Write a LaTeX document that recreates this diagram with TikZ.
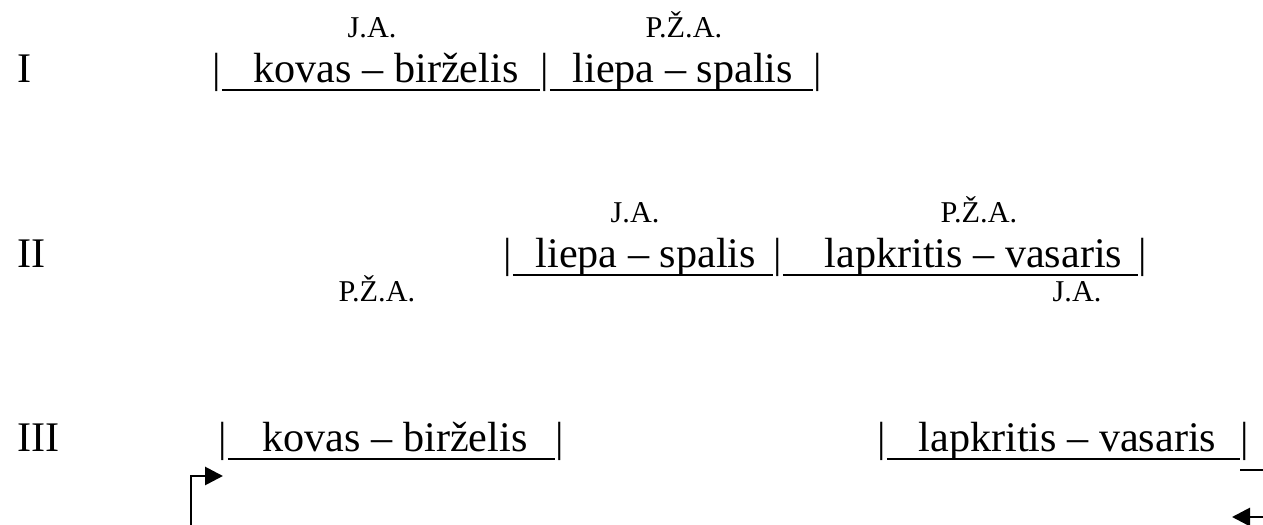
\documentclass[tikz,border=0pt]{standalone}
\usepackage{fontspec}
\setmainfont{Liberation Serif}
\usetikzlibrary{arrows.meta}

\tikzset{
  rowno/.style={font=\fontsize{12}{14}\selectfont, inner sep=0pt, anchor=base west},
  bar/.style={font=\fontsize{12}{14}\selectfont, inner sep=0pt, anchor=base},
  period/.style={font=\fontsize{12}{14}\selectfont, inner sep=0pt, anchor=base west},
  tag/.style={font=\fontsize{8.6}{10}\selectfont, inner sep=0pt, anchor=base west},
  uline/.style={line width=0.75pt},
  turn/.style={line width=0.8pt, -{Triangle[length=0.18cm,width=0.18cm]}}
}

\begin{document}
\begin{tikzpicture}
    \useasboundingbox (0,0) rectangle (12.63,5.25);

    % I
    \node[rowno] (r1) at (0.17,4.42) {I};
    \node[bar] (b11) at (2.17,4.42) {|};
    \node[period] (t11) at (2.53,4.42) {kovas – birželis};
    \node[bar] (b12) at (5.45,4.42) {|};
    \node[period] (t12) at (5.72,4.42) {liepa – spalis};
    \node[bar] (b13) at (8.18,4.42) {|};
    \draw[uline] ([yshift=-0.07cm]b11.base east) -- ([yshift=-0.07cm]b12.base west);
    \draw[uline] ([yshift=-0.07cm]b12.base east) -- ([yshift=-0.07cm]b13.base west);
    \node[tag] (ja1) at (3.47,4.87) {J.A.};
    \node[tag] (pza1) at (6.45,4.87) {P.Ž.A.};

    % II
    \node[rowno] (r2) at (0.17,2.57) {II};
    \node[bar] (b21) at (5.08,2.57) {|};
    \node[period] (t21) at (5.35,2.57) {liepa – spalis};
    \node[bar] (b22) at (7.78,2.57) {|};
    \node[period] (t22) at (8.24,2.57) {lapkritis – vasaris};
    \node[bar] (b23) at (11.43,2.57) {|};
    \draw[uline] ([yshift=-0.07cm]b21.base east) -- ([yshift=-0.07cm]b22.base west);
    \draw[uline] ([yshift=-0.07cm]b22.base east) -- ([yshift=-0.07cm]b23.base west);
    \node[tag] (ja2) at (6.10,3.02) {J.A.};
    \node[tag] (pza2) at (9.40,3.02) {P.Ž.A.};
    \node[tag] (pza3) at (3.38,2.23) {P.Ž.A.};
    \node[tag] (ja3) at (10.52,2.23) {J.A.};

    % III
    \node[rowno] (r3) at (0.17,0.73) {III};
    \node[bar] (b31) at (2.23,0.73) {|};
    \node[period] (t31) at (2.62,0.73) {kovas – birželis};
    \node[bar] (b32) at (5.60,0.73) {|};
    \node[bar] (b33) at (8.82,0.73) {|};
    \node[period] (t32) at (9.18,0.73) {lapkritis – vasaris};
    \node[bar] (b34) at (12.45,0.73) {|};
    \draw[uline] ([yshift=-0.07cm]b31.base east) -- ([yshift=-0.07cm]b32.base west);
    \draw[uline] ([yshift=-0.07cm]b33.base east) -- ([yshift=-0.07cm]b34.base west);
    \coordinate (tail) at (12.63,0.55);
    \draw[uline] ([yshift=-0.18cm]b34.base west) -- (tail);

    % arrows
    \coordinate (inl) at (1.91,0);
    \coordinate (inlend) at (2.23,0.49);
    \draw[turn] (inl) |- (inlend);
    \coordinate (inr) at (12.63,0.08);
    \coordinate (inrend) at (12.32,0.08);
    \draw[turn] (inr) -- (inrend);
\end{tikzpicture}
\end{document}
